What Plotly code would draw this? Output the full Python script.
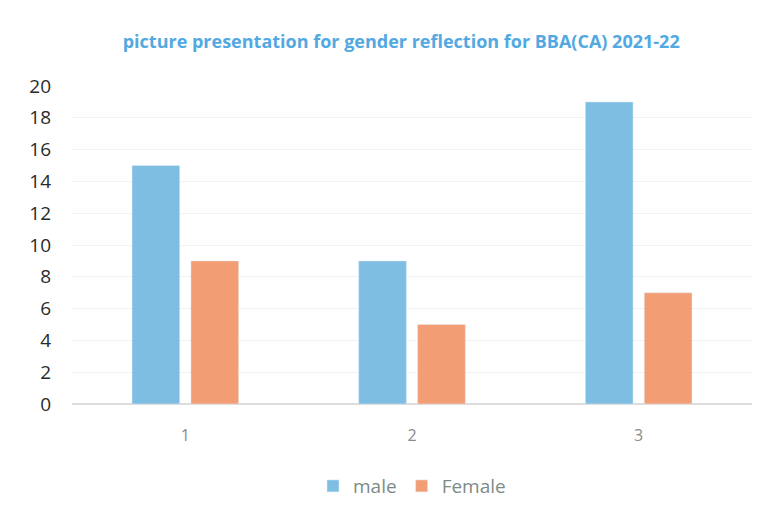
import plotly.graph_objects as go

categories = ['1', '2', '3']
male = [15, 9, 19]
female = [9, 5, 7]
y_ticks = list(range(0, 21, 2))

fig = go.Figure()
fig.add_trace(go.Bar(x=categories, y=male, name='male', marker_color='#7fbee3'))
fig.add_trace(go.Bar(x=categories, y=female, name='Female', marker_color='#f39d74'))

# page body keeps its default 8px margin, so margins are trimmed by that much
fig.update_layout(
    width=774, height=520,
    margin=dict(l=64, r=30, t=78, b=124),
    paper_bgcolor='white', plot_bgcolor='white',
    font=dict(family='Open Sans', color='#333333'),
    title=dict(
        text='<b>picture presentation for gender reflection for BBA(CA) 2021-22</b>',
        x=0.508, xanchor='center', y=0.935, yanchor='middle',
        font=dict(size=18, color='#52a9e2', family='Open Sans')
    ),
    barmode='group', bargap=0.48, bargroupgap=0.19,
    showlegend=True,
    legend=dict(
        orientation='h', x=0.5, xanchor='center', y=-0.258, yanchor='middle',
        font=dict(size=19, color='#7d8b88'), itemwidth=30
    ),
)
fig.update_yaxes(
    range=[0, 20], tickvals=y_ticks, showgrid=True, gridcolor='#f2f2f2',
    zeroline=True, zerolinecolor='#dddddd', tickfont=dict(size=19, color='#2a2a2a'),
    ticklabelstandoff=20, showline=False, automargin=False
)
fig.update_xaxes(
    tickfont=dict(size=16, color='#8a8a8a'), ticklabelstandoff=20, showline=False,
    automargin=False
)

fig.write_html('out.html')
